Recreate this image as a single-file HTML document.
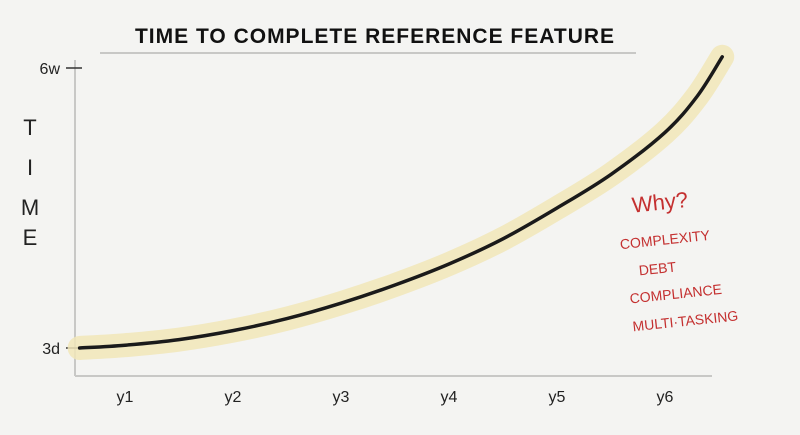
<!DOCTYPE html>
<html><head><meta charset="utf-8"><style>
html,body{margin:0;padding:0}
body{width:800px;height:430px;background:#f4f4f2;overflow:hidden;font-family:"Liberation Sans",sans-serif}
</style></head><body>
<svg id="chart" width="800" height="430" xmlns="http://www.w3.org/2000/svg">
<rect x="0" y="0" width="800" height="430" fill="#f4f4f2"/>
<text x="375" y="43" text-anchor="middle" font-family="Liberation Sans" font-weight="bold" font-size="21" letter-spacing="1" fill="#111">TIME TO COMPLETE REFERENCE FEATURE</text>
<line x1="100" y1="53" x2="636" y2="53" stroke="#c8c8c6" stroke-width="2"/>
<line x1="75" y1="60" x2="75" y2="376" stroke="#c8c8c6" stroke-width="2"/>
<line x1="75" y1="376" x2="712" y2="376" stroke="#c8c8c6" stroke-width="2"/>
<g font-family="Liberation Sans" font-size="22" fill="#222" text-anchor="middle">
<text x="30" y="135">T</text><text x="30" y="175">I</text><text x="30" y="215">M</text><text x="30" y="245">E</text>
</g>
<g id="yticks"></g>
<g id="xticks"></g>
<g id="series"></g>
<g font-family="Liberation Sans" fill="#c43030" transform="rotate(-6 690 260)">
<text x="638" y="207" font-size="22">Why?</text>
<text x="622" y="242" font-size="14">COMPLEXITY</text>
<text x="638" y="270" font-size="14">DEBT</text>
<text x="626" y="297" font-size="14">COMPLIANCE</text>
<text x="626" y="325" font-size="14">MULTI·TASKING</text>
</g>
</svg>
<script>
const years=[0.58,1,1.5,2,2.5,3,3.5,4,4.5,5,5.5,6,6.3,6.53];
const values=[0,0.01,0.03,0.062,0.105,0.16,0.225,0.3,0.39,0.5,0.62,0.77,0.9,1.04];
const xTickLabels=["y1","y2","y3","y4","y5","y6"];
const xTickValues=[1,2,3,4,5,6];
const yTickLabels=["3d","6w"];
const yTickValues=[0,1];
const NS="http://www.w3.org/2000/svg";
function xs(v){return 125+(v-1)*108;}
function ys(v){return 348-v*280;}
function el(t,a,p){const e=document.createElementNS(NS,t);for(const k in a)e.setAttribute(k,a[k]);p.appendChild(e);return e;}
const yt=document.getElementById('yticks');
yTickValues.forEach((v,i)=>{
 const l=el('line',{x1:66,x2:82,y1:ys(v),y2:ys(v),stroke:'#333','stroke-width':1.5},yt);
 
 
 const t=el('text',{x:60,y:ys(v)+6,'text-anchor':'end','font-size':16,fill:'#222','font-family':'Liberation Sans'},yt);
 t.textContent=yTickLabels[i];
 
 
});
const xt=document.getElementById('xticks');
xTickValues.forEach((v,i)=>{
 const t=el('text',{x:xs(v),y:402,'text-anchor':'middle','font-size':16,fill:'#222','font-family':'Liberation Sans'},xt);
 t.textContent=xTickLabels[i];
 
 
});
function path(){
 const p=years.map((y,i)=>[xs(y),ys(values[i])]);
 let d='M'+p[0][0]+','+p[0][1];
 for(let i=0;i<p.length-1;i++){
  const p0=p[i-1]||p[i],p1=p[i],p2=p[i+1],p3=p[i+2]||p2;
  d+=' C'+(p1[0]+(p2[0]-p0[0])/6)+','+(p1[1]+(p2[1]-p0[1])/6)+' '+(p2[0]-(p3[0]-p1[0])/6)+','+(p2[1]-(p3[1]-p1[1])/6)+' '+p2[0]+','+p2[1];
 }
 return d;
}
const s=document.getElementById('series');
const d=path();
const band=el('path',{d:d,fill:'none',stroke:'#f1e6b8','stroke-width':24,'stroke-linecap':'round','stroke-opacity':0.85},s);


const line=el('path',{d:d,fill:'none',stroke:'#1a1a1a','stroke-width':3.5,'stroke-linecap':'round'},s);


</script>
</body></html>
